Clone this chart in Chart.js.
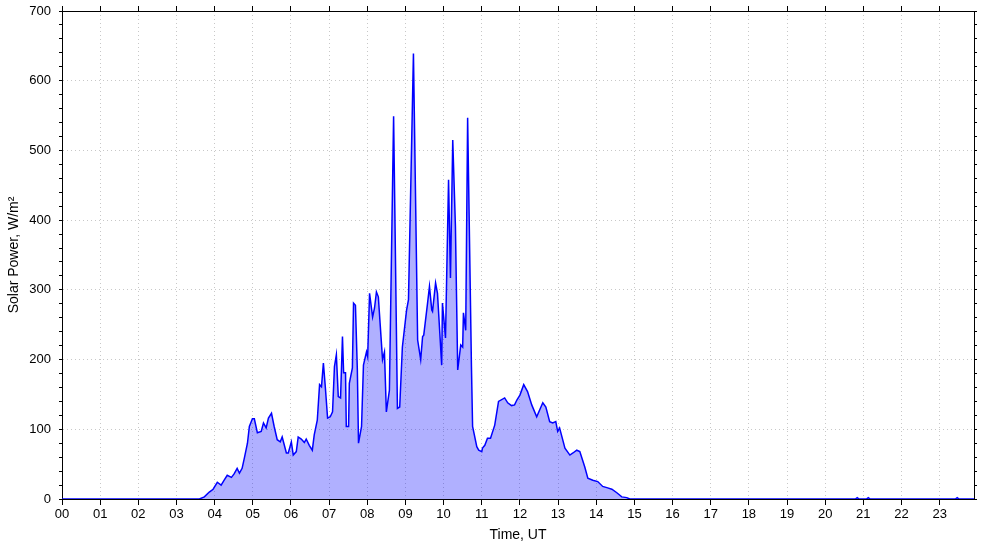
<!DOCTYPE html>
<html>
<head>
<meta charset="utf-8">
<script src="https://cdn.jsdelivr.net/npm/chart.js@4"></script>
<style>
  html, body { margin: 0; padding: 0; background: #fff; }
  #wrap { width: 985px; height: 547px; position: relative; }
</style>
</head>
<body>
<div id="wrap"><canvas id="solarChart"></canvas></div>
<script>
// time in hours UT
const times = [
    0, 3.60, 3.73, 3.86, 3.96, 4.07, 4.17, 4.25, 4.33, 4.44, 4.51, 4.59, 4.65, 4.72, 4.78, 4.86,
    4.91, 4.99, 5.04, 5.12, 5.22, 5.28, 5.35, 5.41, 5.49, 5.56, 5.64, 5.72, 5.77, 5.88, 5.93,
    6.01, 6.06, 6.14, 6.19, 6.27, 6.35, 6.40, 6.48, 6.56, 6.61, 6.69, 6.75, 6.80, 6.85, 6.90, 6.96,
    7.03, 7.09, 7.14, 7.19, 7.24, 7.30, 7.35, 7.38, 7.43, 7.45, 7.51, 7.53, 7.61, 7.64, 7.69, 7.74, 7.77, 7.85, 7.90, 7.98,
    8.01, 8.06, 8.14, 8.19, 8.24, 8.29, 8.40, 8.45, 8.50, 8.58, 8.69, 8.79, 8.85, 8.92,
    9.03, 9.08, 9.21, 9.32, 9.40, 9.45, 9.48, 9.58, 9.63, 9.69, 9.71, 9.79, 9.84, 9.95, 9.97,
    10.05, 10.13, 10.18, 10.24, 10.31, 10.37, 10.45, 10.50, 10.52, 10.58, 10.63, 10.73, 10.76, 10.87, 10.92,
    11.00, 11.02, 11.08, 11.15, 11.23, 11.34, 11.44, 11.60, 11.68, 11.78, 11.86, 11.92,
    12.00, 12.10, 12.20, 12.31, 12.44, 12.52, 12.60, 12.68, 12.78, 12.86, 12.94, 12.99,
    13.04, 13.18, 13.31, 13.39, 13.49, 13.57, 13.70, 13.78, 13.91,
    14.04, 14.17, 14.30, 14.41, 14.54, 14.67, 14.80, 14.88,
    20.79, 20.84, 20.89, 21.08, 21.13, 21.18, 23.41, 23.46, 23.51, 23.9
];

// solar power, W/m2
const power = [
    0, 0, 3, 10, 14, 24, 20, 27, 34, 31, 36, 44, 37, 44, 59, 80,
    104, 115, 115, 95, 97, 109, 102, 116, 123, 104, 85, 82, 89, 66, 66,
    82, 63, 68, 89, 86, 81, 86, 77, 70, 92, 113, 164, 161, 195, 161, 116,
    118, 125, 190, 207, 147, 145, 233, 181, 181, 104, 104, 166, 188, 281, 278, 185, 80, 104, 192, 211,
    204, 295, 261, 274, 297, 290, 200, 211, 125, 156, 549, 130, 132, 218,
    271, 286, 639, 228, 200, 233, 235, 281, 305, 271, 269, 310, 295, 192, 281,
    231, 458, 317, 515, 391, 185, 221, 218, 267, 242, 547, 190, 104, 75, 70,
    68, 73, 77, 87, 87, 106, 140, 145, 138, 134, 135, 142,
    149, 164, 154, 135, 118, 128, 138, 132, 111, 109, 111, 97,
    102, 73, 63, 66, 70, 68, 46, 30, 27,
    25, 18, 16, 14, 9, 3, 2, 0,
    0, 2, 0, 0, 2, 0, 0, 2, 0, 0
];

const hourTicks = ["00","01","02","03","04","05","06","07","08","09","10","11",
                   "12","13","14","15","16","17","18","19","20","21","22","23"];

const points = times.map((t, i) => ({ x: t, y: power[i] }));

const gridGray = "#c8c8c8";
const font13 = { family: "'Liberation Sans', Arial, sans-serif", size: 13 };
const font14 = { family: "'Liberation Sans', Arial, sans-serif", size: 14 };

// one tick per whole hour, 00..23
const hourScaleTicks = scale => {
    scale.ticks = hourTicks.map((_, i) => ({ value: i }));
};

new Chart(document.getElementById("solarChart"), {
    type: "line",
    data: {
        datasets: [{
            data: points,
            borderColor: "#0000ff",
            borderWidth: 1.5,
            backgroundColor: "rgba(0, 0, 255, 0.31)",
            fill: "origin",
            pointRadius: 0,
            tension: 0
        }]
    },
    options: {
        responsive: true,
        maintainAspectRatio: false,
        animation: false,
        layout: { padding: 0 },
        plugins: {
            legend: { display: false },
            tooltip: { enabled: false }
        },
        scales: {
            x: {
                type: "linear",
                position: "bottom",
                min: 0,
                max: 23.9,
                afterBuildTicks: hourScaleTicks,
                afterFit: s => { s.height = 48; },
                ticks: {
                    autoSkip: false,
                    maxRotation: 0,
                    padding: 2,
                    color: "#000",
                    font: font13,
                    callback: v => hourTicks[v]
                },
                grid: {
                    color: gridGray,
                    tickColor: "#000",
                    tickLength: 6,
                    tickBorderDash: []
                },
                border: { color: "#000", width: 1, dash: [1, 3] },
                title: {
                    display: true,
                    text: "Time, UT",
                    color: "#000",
                    font: font14,
                    padding: { top: 0, bottom: 3 }
                }
            },
            xTop: {
                type: "linear",
                position: "top",
                min: 0,
                max: 23.9,
                afterBuildTicks: hourScaleTicks,
                afterFit: s => { s.height = 11; },
                ticks: { display: false },
                grid: {
                    drawOnChartArea: false,
                    tickColor: "#000",
                    tickLength: 5
                },
                border: { color: "#000", width: 1 }
            },
            y: {
                position: "left",
                min: 0,
                max: 700,
                afterFit: s => {
                    s.width = 62;
                    s.paddingTop = 0;
                    s.paddingBottom = 0;
                },
                ticks: {
                    stepSize: 20,
                    autoSkip: false,
                    padding: 8,
                    color: "#000",
                    font: font13,
                    callback: v => (v % 100 === 0 ? v : "")
                },
                grid: {
                    color: c => (c.tick && c.tick.value % 100 === 0 ? gridGray : "rgba(0,0,0,0)"),
                    tickColor: "#000",
                    tickLength: 3,
                    tickBorderDash: []
                },
                border: { color: "#000", width: 1, dash: [1, 3] },
                title: {
                    display: true,
                    text: "Solar Power, W/m²",
                    color: "#000",
                    font: font14,
                    padding: { top: 6, bottom: 0 }
                }
            },
            yRight: {
                position: "right",
                min: 0,
                max: 700,
                afterFit: s => {
                    s.width = 11;
                    s.paddingTop = 0;
                    s.paddingBottom = 0;
                },
                ticks: { stepSize: 20, display: false },
                grid: {
                    drawOnChartArea: false,
                    tickColor: "#000",
                    tickLength: 3
                },
                border: { color: "#000", width: 1 }
            }
        }
    }
});
</script>
</body>
</html>
